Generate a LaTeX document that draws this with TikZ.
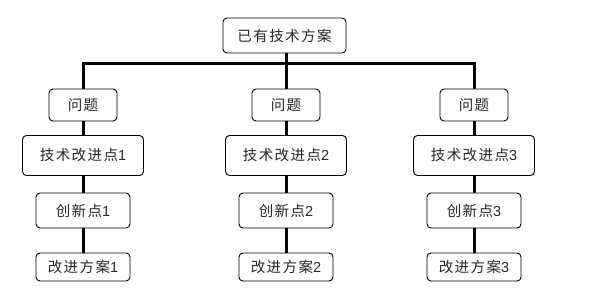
\documentclass[tikz,border=0pt]{standalone}
\usepackage{fontspec}
\setmainfont{Liberation Sans}
\newfontfamily\cjk[LetterSpace=10]{Noto Sans CJK SC}
\begin{document}
\begin{tikzpicture}[x=1pt,y=-1pt,
  box/.style={draw=black, line width=0.9pt, rounded corners=4pt, fill=white,
    inner sep=0pt, font=\fontsize{14.5}{15}\selectfont, text=black!85},
  link/.style={line width=3pt, line join=miter}]
\useasboundingbox (0,0) rectangle (594,289);
\node[box, minimum width=123pt, minimum height=35pt] (top) at (284.5,35.5) {{\cjk 已有技术方案}};
\foreach \i/\x in {1/83,2/286,3/474}{
  \node[box, minimum width=68pt, minimum height=32pt] (p\i) at (\x,105) {{\cjk 问题}};
  \node[box, minimum width=121pt, minimum height=40pt] (t\i) at (\x,155.5) {{\cjk 技术改进点}\i};
  \node[box, minimum width=94pt, minimum height=35pt] (c\i) at (\x,210.5) {{\cjk 创新点}\i};
  \node[box, minimum width=94pt, minimum height=28pt] (g\i) at (\x,267) {{\cjk 改进方案}\i};
}
\coordinate (bus) at (286,63);
\draw[link] (p1.north) |- (bus) -| (p3.north);
\draw[link] (top.south -| p2.north) -- (p2.north);
\foreach \i in {1,2,3}{
  \draw[link] (p\i.south) -- (t\i.north);
  \draw[link] (t\i.south) -- (c\i.north);
  \draw[link] (c\i.south) -- (g\i.north);
}
\end{tikzpicture}
\end{document}
